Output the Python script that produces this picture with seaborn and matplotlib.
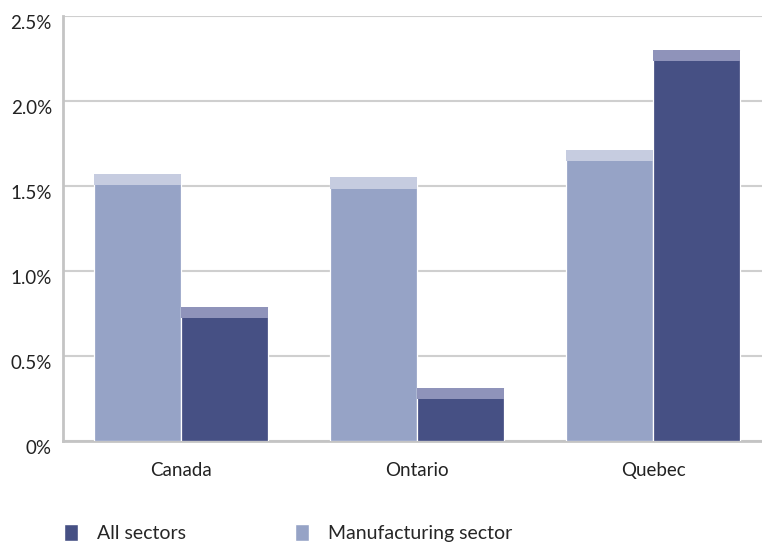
import pandas as pd
import seaborn as sns
import matplotlib.pyplot as plt
import matplotlib.transforms as mtransforms
from matplotlib.patches import Patch

# values (percent)
regions = ["Canada", "Ontario", "Quebec"]
manufacturing = [1.57, 1.55, 1.71]
all_sectors = [0.79, 0.31, 2.30]
yticks = [0, 0.5, 1.0, 1.5, 2.0, 2.5]
ytick_labels = ["0%", "0.5%", "1.0%", "1.5%", "2.0%", "2.5%"]

df = pd.DataFrame({
    "region": regions * 2,
    "sector": ["Manufacturing sector"] * 3 + ["All sectors"] * 3,
    "value": manufacturing + all_sectors,
})

light = "#96a3c6"
dark = "#465084"
light_cap = "#c6cce0"
dark_cap = "#8f93ba"
cap = 0.065

sns.set_style("white")
plt.rcParams["font.family"] = ["Lato", "DejaVu Sans"]

fig = plt.figure(figsize=(7.62, 5.42), dpi=100)
ax = fig.add_axes([63 / 762, 1 - 441 / 542, 708 / 762, 425 / 542])

sns.barplot(data=df, x="region", y="value", hue="sector",
            hue_order=["Manufacturing sector", "All sectors"],
            palette=[light, dark], width=0.74, edgecolor="white",
            linewidth=0.9, saturation=1, legend=False, ax=ax, zorder=3)

# lighter band on top of every bar
for container, c in zip(ax.containers, [light_cap, dark_cap]):
    for bar in container:
        h = bar.get_height()
        ax.bar(bar.get_x() + bar.get_width() / 2, cap, width=bar.get_width(),
               bottom=h - cap, color=c, linewidth=0, zorder=4)

ax.set_xlim(-0.5, 2.5)
ax.set_ylim(0, 2.5)
ax.set_yticks(yticks)
ax.set_yticklabels(ytick_labels)
ax.yaxis.grid(True, color="#cfcfcf", linewidth=1.5, zorder=0)
ax.set_axisbelow(True)
ax.set_xlabel("")
ax.set_ylabel("")

for s in ["top", "right"]:
    ax.spines[s].set_visible(False)
for s in ["left", "bottom"]:
    ax.spines[s].set_color("#c4c4c4")
    ax.spines[s].set_linewidth(2)

ax.tick_params(axis="y", length=0, labelsize=13.5, labelcolor="#222222", pad=8)
ax.tick_params(axis="x", length=0, labelsize=13.5, labelcolor="#222222", pad=15)
ax.set_xticks([0.5, 1.5], minor=True)
ax.tick_params(axis="x", which="minor", direction="in", length=8,
               width=2, color="#c4c4c4")

# tick labels sit a little below their gridlines
offset = mtransforms.ScaledTranslation(0, -6 / 100, fig.dpi_scale_trans)
for lab in ax.get_yticklabels():
    lab.set_transform(lab.get_transform() + offset)

handles = [Patch(facecolor=dark, label="All sectors"),
           Patch(facecolor=light, label="Manufacturing sector")]
fig.legend(handles=handles, loc="lower left", bbox_to_anchor=(46 / 762, -0.033),
           ncol=2, frameon=False, fontsize=14, handlelength=0.72,
           handleheight=1.0, handletextpad=1.0, columnspacing=5.6)

fig.savefig("out.png", dpi=100)
